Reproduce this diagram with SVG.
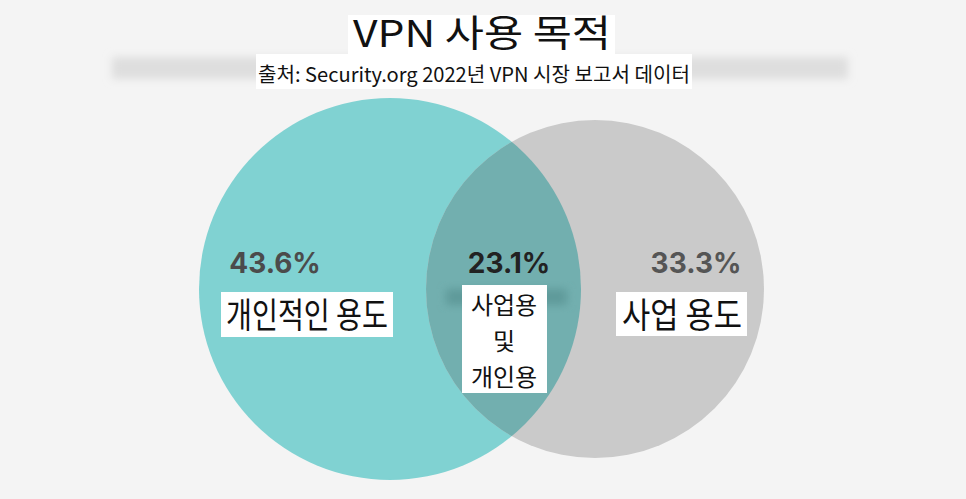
<svg xmlns="http://www.w3.org/2000/svg" width="966" height="499" viewBox="0 0 966 499">
  <defs>
    <style>
      .ko { font-family: "Noto Sans CJK KR", "Noto Sans", sans-serif; fill: #111; }
      .pct { font-family: Inter, "Liberation Sans", sans-serif; font-weight: 700; font-size: 28px; }
      .box { fill: #ffffff; }
    </style>
    <clipPath id="clipLeft">
      <circle cx="390" cy="289" r="191"/>
    </clipPath>
    <filter id="blur" x="-10%" y="-50%" width="120%" height="200%">
      <feGaussianBlur stdDeviation="4"/>
    </filter>
  </defs>
  <rect x="0" y="0" width="966" height="499" fill="#f4f4f4"/>

  <g id="header">
    <rect x="112" y="57" width="736" height="22" fill="#dedede" filter="url(#blur)"/>
    <rect class="box" x="348" y="15" width="267" height="40"/>
    <text class="ko" x="482" y="47" font-size="37" text-anchor="middle" textLength="258" lengthAdjust="spacingAndGlyphs">VPN 사용 목적</text>
    <rect class="box" x="256" y="54" width="436" height="35"/>
    <text class="ko" x="474" y="82" font-size="20" text-anchor="middle" textLength="432" lengthAdjust="spacingAndGlyphs">출처: Security.org 2022년 VPN 시장 보고서 데이터</text>
  </g>

  <g id="personal">
    <circle cx="390" cy="289" r="191" fill="#80d2d2"/>
  </g>
  <g id="business">
    <circle cx="595" cy="289" r="169" fill="#cacaca"/>
  </g>
  <g id="both">
    <circle cx="595" cy="289" r="169" fill="#72afaf" clip-path="url(#clipLeft)"/>
  </g>

  <g id="personal-label">
    <text class="pct" x="275" y="273" text-anchor="middle" fill="#4b4b4b">43.6%</text>
    <rect class="box" x="221" y="292" width="172" height="45"/>
    <text class="ko" x="307" y="328" font-size="35" text-anchor="middle" textLength="162" lengthAdjust="spacingAndGlyphs">개인적인 용도</text>
  </g>

  <g id="business-label">
    <text class="pct" x="696" y="273" text-anchor="middle" fill="#555555">33.3%</text>
    <rect class="box" x="616" y="292" width="131" height="44"/>
    <text class="ko" x="682" y="328" font-size="35" text-anchor="middle" textLength="120" lengthAdjust="spacingAndGlyphs">사업 용도</text>
  </g>

  <g id="both-label">
    <text class="pct" x="509" y="273" text-anchor="middle" fill="#222222">23.1%</text>
    <rect x="446" y="289" width="121" height="16" fill="#5f9a9a" filter="url(#blur)"/>
    <rect class="box" x="462" y="285" width="85" height="108"/>
    <text class="ko" x="504" y="314" font-size="24" text-anchor="middle">사업용</text>
    <text class="ko" x="504" y="350" font-size="24" text-anchor="middle">및</text>
    <text class="ko" x="504" y="386" font-size="24" text-anchor="middle">개인용</text>
  </g>

  <g id="connectors"></g>
</svg>
